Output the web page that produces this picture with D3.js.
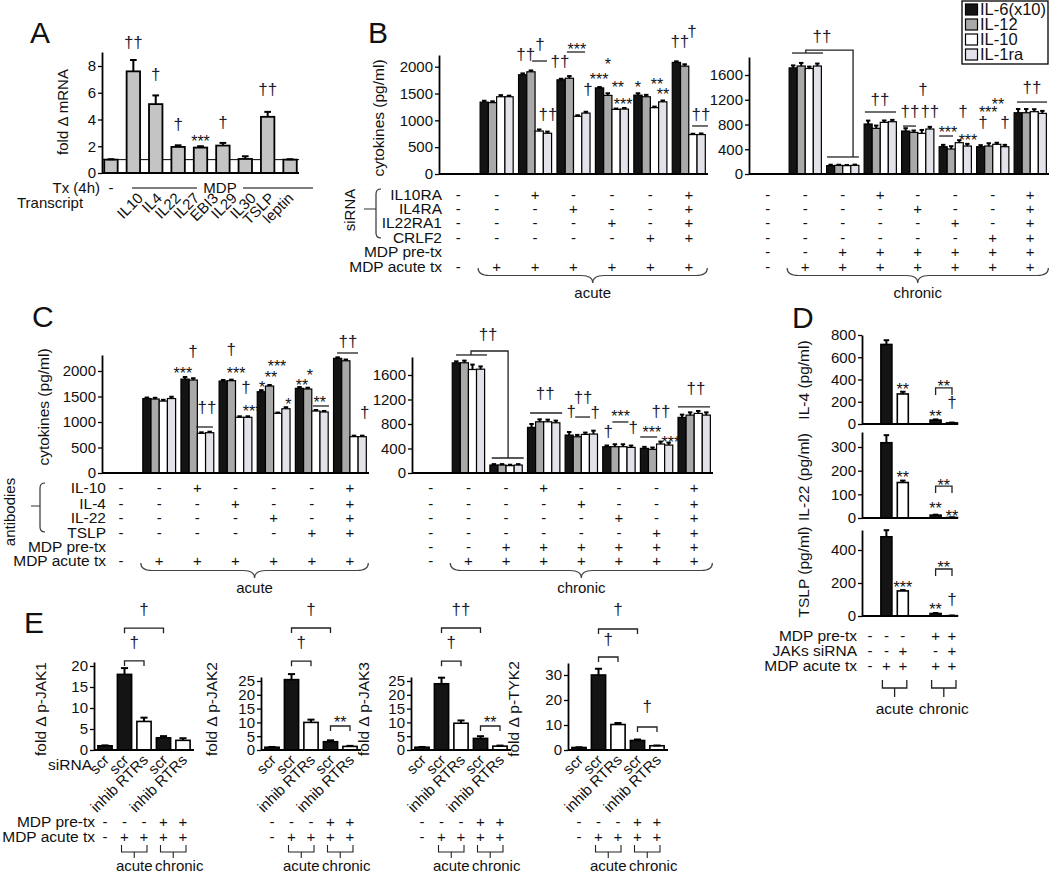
<!DOCTYPE html>
<html><head><meta charset="utf-8">
<script src="https://cdn.jsdelivr.net/npm/d3@7/dist/d3.min.js"></script>
<style>
html,body{margin:0;padding:0;background:#fff;}
text{font-family:Arial,"Liberation Sans",sans-serif;}
</style></head>
<body><svg id="fig" width="1050" height="875" xmlns="http://www.w3.org/2000/svg"></svg>
<script>
// ================= DATA =================
// Panel A
const aTranscripts = ["IL10","IL4","IL22","IL27","EBI3","IL29","IL30","TSLP","leptin"];
const aFold    = [1.0, 7.6, 5.15, 1.95, 1.9, 2.05, 1.05, 4.2, 1.0];
const aFoldErr = [0.03, 0.85, 0.65, 0.12, 0.1, 0.2, 0.2, 0.37, 0.03];
const aTicks = [0,2,4,6,8];
const aSig = [[1,9.72,"††"],[2,7.33,"†"],[3,3.59,"†"],[4,2.69,"***"],[5,3.74,"†"],[7,6.2,"††"]];

// Panels B, C series
const cytokines = ["IL-6(x10)","IL-12","IL-10","IL-1ra"];
const cytTicksAcute = [0,500,1000,1500,2000];
const cytTicksChronic = [0,400,800,1200,1600];

const bAcute = [
  [0,1340,1850,1755,1605,1470,2080],
  [0,1330,1905,1785,1465,1440,2010],
  [0,1440, 800,1075,1205,1236, 735],
  [0,1440, 760,1135,1210,1345, 735]];
const bAcuteErr = [
  [0,25,25,20,15,35,20],[0,25,25,40,40,35,35],[0,30,30,20,15,20,15],[0,20,30,25,20,25,20]];
const bChronic = [
  [0,1715,135,808,695,441,441,990],
  [0,1745,140,738,673,404,452,990],
  [0,1705,135,835,657,506,480,1007],
  [0,1745,140,845,727,452,441,980]];
const bChronicErr = [
  [0,40,15,55,45,30,25,60],[0,50,10,45,30,45,45,60],[0,30,10,30,55,40,25,40],[0,40,12,30,35,35,30,40]];

const cAcute = [
  [0,1460,1842,1803,1594,1660,2248],
  [0,1450,1823,1810,1705,1647,2200],
  [0,1410, 778,1092,1170,1215, 712],
  [0,1460, 790,1092,1260,1196, 712]];
const cAcuteErr = [
  [0,20,40,20,30,25,20],[0,25,35,20,20,25,25],[0,25,20,20,15,20,20],[0,35,20,20,30,20,20]];
const cChronic = [
  [0,1798,130,745,619,429,402,908],
  [0,1800,130,836,592,429,386,945],
  [0,1690,120,836,630,429,473,973],
  [0,1695,130,820,636,418,456,945]];
const cChronicErr = [
  [0,25,15,55,50,20,25,45],[0,35,15,40,30,40,30,45],[0,80,15,35,30,40,40,40],[0,45,15,35,55,30,40,45]];

// significance marks: [group, bar slot, value level, text]
const bAcuteSig = [[2,0.38,2218,"††"],[2,2.1,2404,"†"],[2,3.06,1100,"††"],[3,-0.14,2088,"††"],[3,1.9,2404,"***"],
  [3,3.26,1566,"†"],[4,1.02,2125,"*"],[4,-0.06,1845,"***"],[4,2.22,1696,"**"],[4,2.86,1379,"***"],
  [5,-0.02,1696,"*"],[5,2.3,1752,"**"],[5,3.02,1566,"**"],[6,0.42,2460,"††"],[6,1.9,2647,"†"],[6,2.98,1100,"††"]];
const bAcuteLines = [[[2,1.14,2106],[2,2.94,2106]],[[3,0.7,2274],[3,2.9,2274]],[[6,1.9,895],[6,3.82,895]]];
const bChronicSig = [[1,3.58,2213,"††"],[3,1.47,1195,"††"],[4,0.53,1002,"††"],[4,2.14,1357,"†"],[4,3.0,1002,"††"],
  [5,0.6,743,"***"],[5,2.47,1002,"†"],[5,3.08,614,"***"],[6,0.94,1066,"***"],[6,2.16,1195,"**"],
  [6,0.29,824,"†"],[6,3.02,824,"†"],[7,1.72,1389,"††"]];
const bChronicLines = [[[1,-0.14,1955],[1,3.7,1955]],[[1,1.57,1955],[1,1.57,2003],[2,2.78,2003],[2,2.78,275]],
  [[2,-0.45,275],[2,3.5,275]],[[3,-0.4,1002],[3,3.45,1002]],[[4,-0.33,775],[4,1.28,775]],
  [[5,-0.5,614],[5,1.22,614]],[[7,-0.14,1163],[7,3.58,1163]]];
const cAcuteSig = [[2,0.96,2373,"†"],[2,-0.26,2039,"***"],[2,2.67,1275,"††"],[3,0.98,2412,"†"],[3,1.57,2039,"***"],
  [3,2.79,1667,"†"],[3,3.52,1294,"***"],[4,1.91,2176,"***"],[4,1.18,1961,"**"],[4,0.09,1765,"*"],[4,3.31,1431,"*"],
  [5,0.3,1804,"**"],[5,1.27,2000,"*"],[5,2.48,1471,"**"],[6,1.27,2569,"††"],[6,3.32,1176,"†"]];
const cAcuteLines = [[[2,1.35,902],[2,3.4,902]],[[5,1.65,1314],[5,3.6,1314]],[[6,-0.07,2353],[6,2.49,2353]]];
const cChronicSig = [[1,3.93,2253,"††"],[3,1.68,1290,"††"],[4,0.24,996,"†"],[4,1.72,1224,"††"],[4,3.21,980,"†"],
  [5,1.7,996,"***"],[5,0.17,669,"†"],[5,3.26,735,"†"],[6,0.93,735,"***"],[6,2.04,996,"††"],[6,3.27,571,"***"],
  [7,1.73,1371,"††"]];
const cChronicLines = [[[1,-0.03,1927],[1,3.8,1927]],[[1,1.82,1927],[1,1.82,1992],[2,1.75,1992],[2,1.75,245]],
  [[2,-0.27,245],[2,3.68,245]],[[3,-0.18,980],[3,3.78,980]],[[4,0.74,914],[4,2.59,914]],
  [[5,0.69,833],[5,2.67,833]],[[6,-0.52,588],[6,1.58,588]],[[7,-0.5,1078],[7,3.46,1078]]];

// treatment tables
const bRowLabels = ["IL10RA","IL4RA","IL22RA1","CRLF2","MDP pre-tx","MDP acute tx"];
const cRowLabels = ["IL-10","IL-4","IL-22","TSLP","MDP pre-tx","MDP acute tx"];
const acuteRows   = ["--+---+","---+--+","----+-+","-----++","       ","-++++++"];
const chronicRows = ["---+---+","----+--+","-----+-+","------++","--++++++","-+++++++"];

// Panel D
const dPanels = ["IL-4 (pg/ml)","IL-22 (pg/ml)","TSLP (pg/ml)"];
const dValues = [[715,270,35,10],[318,150,12,2],[480,152,15,2]];
const dErrors = [[38,20,6,3],[32,8,2,1],[40,5,3,1]];
const dTicks = [[0,200,400,600,800],[0,100,200,300],[0,200,400]];
const dSig = [
  [[1,350,"**"],[2,108,"**"],[2.5,378,"**"],[3,189,"†"]],
  [[1,190,"**"],[2,59,"**"],[3,25,"**"],[2.5,156,"**"]],
  [[1,200,"***"],[2,67,"**"],[3,97,"†"],[2.5,321,"**"]]];
const dBrackets = [[2,3,324],[2,3,135],[2,3,285]];
const dRowLabels = ["MDP pre-tx","JAKs siRNA","MDP acute tx"];
const dRows = ["---++","--+-+","-++++"];

// Panel E
const eTargets = ["fold \u0394 p-JAK1","fold \u0394 p-JAK2","fold \u0394 p-JAK3","fold \u0394 p-TYK2"];
const eSiRNA = ["scr","scr","inhib RTRs","scr","inhib RTRs"];
const eValues = [[1,18,6.8,2.9,2.3],[1,25.5,10,3,1.3],[1,24,9.7,4.2,1.4],[1,30,10.2,3.8,1.7]];
const eErrors = [[0.1,1.5,0.9,0.4,0.5],[0.1,2,1,0.5,0.2],[0.1,2.2,1,0.8,0.2],[0.1,2.5,0.6,0.4,0.1]];
const eTicks = [[0,5,10,15,20],[0,5,10,15,20,25],[0,5,10,15,20,25],[0,10,20,30]];
const eBrackets = [[[1,2,21.2],[1,3,29]],[[1,2,32.2],[1,3,44.2],[3,4,8.7]],[[1,2,32.2],[1,3,44.2],[3,4,8.7]],[[1,2,37.2],[1,3,48.4],[3,4,9.2]]];
const eSig = [[[1.5,25.5,"†"],[2,33.3,"†"]],[[1.5,38.8,"†"],[2,50.7,"†"],[3.5,11.6,"**"]],
  [[1.5,38.8,"†"],[2,50.7,"††"],[3.5,11.6,"**"]],[[1.5,44,"†"],[2,56,"†"],[3.5,17.2,"†"]]];
const eRowLabels = ["MDP pre-tx","MDP acute tx"];
const eRows = ["---++","-++++"];

// ================= DRAWING =================
const svg = d3.select("#fig");
svg.append("rect").attr("width",1050).attr("height",875).attr("fill","#fff");
const FONT = "Arial, 'Liberation Sans', sans-serif";
const FILLS = ["#141414","#a9a9a9","#ffffff","#e2e2ea"];
const DAG = "#1d1d30";

function T(p,x,y,s,o={}){
  const t=p.append("text").attr("x",x).attr("y",y).text(s)
    .attr("font-size",o.size||15).attr("text-anchor",o.anchor||"start").attr("fill",o.fill||"#111");
  if(o.rot!=null) t.attr("transform",`rotate(${o.rot},${x},${y})`);
  return t;
}
function vText(p,cx,cy,s,size){
  return T(p,cx+0.36*size,cy,s,{size:size,anchor:"middle",rot:-90});
}
function linY(zero,refVal,refPx,topPx){
  const top=refVal*(zero-topPx)/(zero-refPx);
  return d3.scaleLinear().domain([0,top]).range([zero,topPx]);
}
function leftAxis(p,y,x,ticks,size){
  const a=p.append("g").attr("transform",`translate(${x},0)`)
   .call(d3.axisLeft(y).tickValues(ticks).tickSize(4).tickSizeOuter(0).tickPadding(2).tickFormat(d3.format("d")));
  a.attr("font-family",FONT).attr("font-size",size||15);
  a.select(".domain").attr("stroke","#000").attr("stroke-width",1.8);
  a.selectAll(".tick line").attr("stroke","#000").attr("stroke-width",1.3);
  a.selectAll(".tick text").attr("fill","#111");
  return a;
}
function hLine(p,x1,x2,y,w){p.append("line").attr("x1",x1).attr("x2",x2).attr("y1",y).attr("y2",y).attr("stroke","#000").attr("stroke-width",w||2);}
function sig(p,x,yc,s,size){
  const dag=s.includes("\u2020");
  const fs=size||(dag?17:16);
  p.append("text").attr("x",x).attr("y",yc+(dag?0.3:0.6)*fs).attr("text-anchor","middle")
   .attr("font-size",fs).attr("fill",dag?DAG:"#111").text(s);
}
function bar(p,x,w,y0,y1,fill,sw){
  p.append("rect").attr("x",x).attr("y",Math.min(y0,y1)).attr("width",w).attr("height",Math.abs(y0-y1))
   .attr("fill",fill).attr("stroke","#000").attr("stroke-width",sw||1.3);
}
function errBar(p,xc,yTop,yErr,cap){
  p.append("line").attr("x1",xc).attr("x2",xc).attr("y1",yTop).attr("y2",yErr).attr("stroke","#000").attr("stroke-width",2);
  p.append("line").attr("x1",xc-cap/2).attr("x2",xc+cap/2).attr("y1",yErr).attr("y2",yErr).attr("stroke","#000").attr("stroke-width",2);
}
function brace(p,x0,x1,y0,h){
  const xm=(x0+x1)/2,r=h/2;
  const d=`M${x0},${y0} Q${x0},${y0+r} ${x0+r*1.5},${y0+r} L${xm-r*1.5},${y0+r} Q${xm},${y0+r} ${xm},${y0+h} Q${xm},${y0+r} ${xm+r*1.5},${y0+r} L${x1-r*1.5},${y0+r} Q${x1},${y0+r} ${x1},${y0}`;
  p.append("path").attr("d",d).attr("fill","none").attr("stroke","#444").attr("stroke-width",1.2);
}
function sqBracket(p,x0,x1,yTop,yLine,yTick,sw){
  p.append("path").attr("d",`M${x0},${yTop}V${yLine}H${x1}V${yTop}M${(x0+x1)/2},${yLine}V${yTick}`)
   .attr("fill","none").attr("stroke","#222").attr("stroke-width",sw||1.3);
}
function capBracket(p,x0,x1,y,leg){
  p.append("path").attr("d",`M${x0},${y+leg}V${y}H${x1}V${y+leg}`).attr("fill","none").attr("stroke","#222").attr("stroke-width",1.3);
}

function grouped(cfg){
  const g=svg.append("g");
  const n=cfg.values[0].length;
  const x=d3.scaleBand().domain(d3.range(n)).range(cfg.xr).paddingInner(0.14).paddingOuter(0.07);
  const y=cfg.y;
  const bw=x.bandwidth()/cfg.values.length;
  const xs=(gi,s)=>x(gi)+(s+0.5)*bw;
  cfg.values.forEach((ser,si)=>ser.forEach((v,gi)=>{
    if(!v) return;
    bar(g,x(gi)+si*bw,bw,y(0),y(v),FILLS[si],1.2);
    errBar(g,xs(gi,si),y(v),y(v+cfg.errors[si][gi]),bw*0.55);
  }));
  hLine(g,cfg.xr[0],cfg.xr[1],y(0),2);
  leftAxis(g,y,cfg.xr[0],cfg.ticks,15);
  const line=d3.line().x(d=>xs(d[0],d[1])).y(d=>y(d[2]));
  cfg.lines.forEach(l=>g.append("path").attr("d",line(l)).attr("fill","none").attr("stroke","#222").attr("stroke-width",1.3));
  cfg.sig.forEach(s=>sig(g,xs(s[0],s[1]),y(s[2]),s[3]));
  const cx=d3.range(n).map(i=>x(i)+x.bandwidth()/2);
  cfg.rows.forEach((r,ri)=>r.split("").forEach((c,ci)=>{ if(c!==" ") T(g,cx[ci],cfg.rowY[ri]+5,c,{anchor:"middle",size:15}); }));
  const bx0=x(1)-2, bx1=x(n-1)+x.bandwidth()+2;
  brace(g,bx0,bx1,cfg.braceY,15);
  T(g,(bx0+bx1)/2,cfg.braceY+30,cfg.braceLabel,{anchor:"middle",size:15});
  return {x,y};
}

// ---------- Panel A ----------
(function(){
  const g=svg.append("g");
  T(g,30,43,"A",{size:30});
  const y=linY(173,8,66,52);
  const x=d3.scaleBand().domain(d3.range(aFold.length)).range([102,299]).paddingInner(0.4).paddingOuter(0.1);
  hLine(g,102,299,y(1),1);
  aFold.forEach((v,i)=>{
    bar(g,x(i),x.bandwidth(),y(0),y(v),"#c4c4c4",1.8);
    errBar(g,x(i)+x.bandwidth()/2,y(v),y(v+aFoldErr[i]),x.bandwidth()*0.5);
  });
  hLine(g,102,299,y(0),2);
  leftAxis(g,y,102,aTicks,15);
  vText(g,63,112,"fold \u0394 mRNA",15);
  aSig.forEach(s=>sig(g,x(s[0])+x.bandwidth()/2,y(s[1]),s[2]));
  T(g,100,193,"Tx (4h)",{anchor:"end",size:15});
  T(g,x(0)+x.bandwidth()/2,193,"-",{anchor:"middle",size:15});
  T(g,220,193,"MDP",{anchor:"middle",size:15});
  g.append("line").attr("x1",132).attr("x2",197).attr("y1",188).attr("y2",188).attr("stroke","#555").attr("stroke-width",1.5);
  g.append("line").attr("x1",243).attr("x2",313).attr("y1",188).attr("y2",188).attr("stroke","#555").attr("stroke-width",1.5);
  T(g,17,208,"Transcript",{size:15});
  aTranscripts.forEach((t,i)=>T(g,144+i*18.8,199,t,{anchor:"end",size:15,rot:-45}));
})();

// ---------- Panel B ----------
T(svg,368,43,"B",{size:30});
grouped({xr:[439,708],y:linY(174,2000,66.7,55),values:bAcute,errors:bAcuteErr,ticks:cytTicksAcute,
  lines:bAcuteLines,sig:bAcuteSig,rows:acuteRows,rowY:[195,209,223,238,252,267],braceY:268,braceLabel:"acute"});
grouped({xr:[749,1049],y:linY(174,1600,75,57),values:bChronic,errors:bChronicErr,ticks:cytTicksChronic,
  lines:bChronicLines,sig:bChronicSig,rows:chronicRows,rowY:[195,209,223,238,252,267],braceY:268,braceLabel:"chronic"});
vText(svg,378,118,"cytokines (pg/ml)",15.5);
bRowLabels.forEach((l,i)=>T(svg,442,[195,209,223,238,252,267][i]+5,l,{anchor:"end",size:15.5}));
vText(svg,350,210,"siRNA",15);
svg.append("path").attr("d","M381,189 Q376,189 376,194 V233 Q376,238 381,238 M376,209 H364").attr("fill","none").attr("stroke","#333").attr("stroke-width",1.2);
(function(){
  const g=svg.append("g");
  g.append("rect").attr("x",962).attr("y",1).attr("width",86).attr("height",63).attr("fill","#fff").attr("stroke","#000").attr("stroke-width",1.3);
  cytokines.forEach((c,i)=>{
    const yy=4+i*15;
    g.append("rect").attr("x",965.5).attr("y",yy).attr("width",12).attr("height",11).attr("fill",FILLS[i]).attr("stroke","#000").attr("stroke-width",1.2);
    T(g,980,yy+11,c,{size:16.5});
  });
})();

// ---------- Panel C ----------
const cRowY=[488,503.5,518,533,547,561];
T(svg,32,327,"C",{size:30});
grouped({xr:[102,369],y:linY(473,2000,371,355),values:cAcute,errors:cAcuteErr,ticks:cytTicksAcute,
  lines:cAcuteLines,sig:cAcuteSig,rows:acuteRows,rowY:cRowY,braceY:563,braceLabel:"acute"});
grouped({xr:[412,713],y:linY(473,1600,375,357),values:cChronic,errors:cChronicErr,ticks:cytTicksChronic,
  lines:cChronicLines,sig:cChronicSig,rows:chronicRows,rowY:cRowY,braceY:563,braceLabel:"chronic"});
vText(svg,43,407,"cytokines (pg/ml)",15.5);
cRowLabels.forEach((l,i)=>T(svg,106,cRowY[i]+5,l,{anchor:"end",size:15.5}));
vText(svg,10,512,"antibodies",15);
svg.append("path").attr("d","M45,483 Q40,483 40,488 V527 Q40,532 45,532 M40,506 H31").attr("fill","none").attr("stroke","#333").attr("stroke-width",1.2);

// ---------- Panel D ----------
(function(){
  const g=svg.append("g");
  T(g,792,328,"D",{size:30});
  const ys=[linY(424,800,335,335),linY(518,300,447,432),linY(616,400,550,530)];
  const labCy=[380,477,572];
  const x=d3.scalePoint().domain(["c0","c1","c2","gap","c3","c4"]).range([870,952]);
  const cols=["c0","c1","c2","c3","c4"];
  const bwid=11;
  ys.forEach((y,pi)=>{
    dValues[pi].forEach((v,i)=>{
      const xc=x(cols[i+1]);
      bar(g,xc-bwid/2,bwid,y(0),y(v),i%2===0?"#141414":"#fff",1.6);
      errBar(g,xc,y(v),y(v+dErrors[pi][i]),bwid*0.5);
    });
    hLine(g,862,958,y(0),2);
    leftAxis(g,y,862,dTicks[pi],15);
    vText(g,803,labCy[pi],dPanels[pi],15.5);
    dSig[pi].forEach(s=>{
      const k=s[0]; const xc=Number.isInteger(k)?x(cols[k+1]):(x(cols[Math.floor(k)+1])+x(cols[Math.ceil(k)+1]))/2;
      sig(g,xc,y(s[1]),s[2]);
    });
    const b=dBrackets[pi];
    capBracket(g,x(cols[b[0]+1]),x(cols[b[1]+1]),y(b[2]),7);
  });
  const rowY=[636,651,666];
  dRowLabels.forEach((l,i)=>T(g,857,rowY[i]+5,l,{anchor:"end",size:15.5}));
  dRows.forEach((r,ri)=>r.split("").forEach((c,ci)=>T(g,x(cols[ci]),rowY[ri]+5,c,{anchor:"middle",size:15})));
  sqBracket(g,x("c1")-4,x("c2")+4,680,688,697);
  sqBracket(g,x("c3")-4,x("c4")+4,680,688,697);
  T(g,(x("c1")+x("c2"))/2,714,"acute",{anchor:"middle",size:15.5});
  T(g,(x("c3")+x("c4"))/2,714,"chronic",{anchor:"middle",size:15.5});
})();

// ---------- Panel E ----------
(function(){
  const g=svg.append("g");
  T(g,24,633,"E",{size:30});
  const axX=[94,261,411,568], W=100, labX=[40,211,363,513];
  const ys=[linY(750,20,666,662),linY(750,25,681,677),linY(750,25,681,677),linY(750,30,675,663)];
  eValues.forEach((vals,pi)=>{
    const y=ys[pi];
    const x=d3.scaleBand().domain(d3.range(5)).range([axX[pi],axX[pi]+W]).paddingInner(0.27).paddingOuter(0.2);
    const xc=i=>x(i)+x.bandwidth()/2;
    const xf=k=>Number.isInteger(k)?xc(k):(xc(Math.floor(k))+xc(Math.ceil(k)))/2;
    vals.forEach((v,i)=>{
      bar(g,x(i),x.bandwidth(),y(0),y(v),(i===2||i===4)?"#fff":"#141414",1.6);
      errBar(g,xc(i),y(v),y(v+eErrors[pi][i]),x.bandwidth()*0.5);
    });
    hLine(g,axX[pi],axX[pi]+W,y(0),2);
    leftAxis(g,y,axX[pi],eTicks[pi],15);
    vText(g,labX[pi],709,eTargets[pi],15.5);
    eBrackets[pi].forEach(b=>capBracket(g,xc(b[0]),xc(b[1]),y(b[2]),5));
    eSig[pi].forEach(s=>sig(g,xf(s[0]),y(s[1]),s[2]));
    eSiRNA.forEach((t,i)=>T(g,xc(i)+5,761,t,{anchor:"end",size:15,rot:-45}));
    const rowY=[822,837];
    eRows.forEach((r,ri)=>r.split("").forEach((c,ci)=>T(g,xc(ci),rowY[ri]+5,c,{anchor:"middle",size:15})));
    sqBracket(g,xc(1)-3,xc(2)+3,845,852,858,1.1);
    sqBracket(g,xc(3)-3,xc(4)+3,845,852,858,1.1);
    T(g,(xc(1)+xc(2))/2,871,"acute",{anchor:"middle",size:15});
    T(g,(xc(3)+xc(4))/2+6,871,"chronic",{anchor:"middle",size:15});
  });
  T(g,92,770,"siRNA",{anchor:"end",size:15.5});
  eRowLabels.forEach((l,i)=>T(g,95,[822,837][i]+5,l,{anchor:"end",size:15.5}));
})();
</script></body></html>
